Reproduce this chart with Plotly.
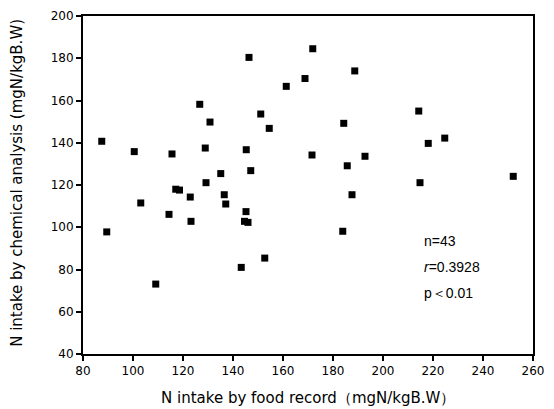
import plotly.graph_objects as go

food_record = [87.5, 100.5, 115.6, 126.7, 128.9, 130.8, 135.1, 129.2,
               146.4, 171.9, 188.7, 168.8, 161.3, 151.1, 154.5, 184.3,
               145.3, 171.6, 192.8, 147.1, 185.7,
               214.3, 224.7, 218.1, 252.1, 214.8,
               117.1, 118.6, 122.9, 136.5, 137.1, 103.1, 114.4, 123.2, 89.5, 109.1,
               187.6, 145.2, 144.6, 146.0, 183.9, 152.7, 143.3]
chemical = [140.7, 135.8, 134.7, 158.2, 137.5, 149.8, 125.4, 121.1,
            180.4, 184.5, 174.0, 170.4, 166.7, 153.6, 146.8, 149.2,
            136.7, 134.2, 133.6, 126.8, 129.1,
            155.0, 142.2, 139.7, 124.1, 121.1,
            118.0, 117.6, 114.3, 115.4, 111.0, 111.5, 106.1, 102.8, 97.8, 73.1,
            115.4, 107.4, 102.8, 102.3, 98.1, 85.4, 81.0]

x_ticks = [80, 100, 120, 140, 160, 180, 200, 220, 240, 260]
y_ticks = [40, 60, 80, 100, 120, 140, 160, 180, 200]
x_title = "N intake by food record（mgN/kgB.W）"
y_title = "N intake by chemical analysis (mgN/kgB.W)"
stats_lines = ["n=43", "<i>r</i>=0.3928", "p＜0.01"]

fig = go.Figure()
fig.add_trace(go.Scatter(
    x=food_record, y=chemical, mode="markers",
    marker=dict(symbol="square", size=7, color="black"),
    showlegend=False,
))

axis_font = dict(family="DejaVu Sans", size=12, color="black")
common = dict(
    showgrid=False, zeroline=False, showline=True, linecolor="black", linewidth=2,
    mirror=True, ticks="outside", ticklen=5, tickwidth=1.5, tickcolor="black",
    tickfont=axis_font, automargin=False,
)
fig.update_xaxes(range=[80, 260], tickvals=x_ticks,
                 ticktext=[str(t) for t in x_ticks], **common)
fig.update_yaxes(range=[40, 200], tickvals=y_ticks,
                 ticktext=[str(t) for t in y_ticks], **common)

title_font = dict(family="DejaVu Sans", size=15, color="black")
fig.add_annotation(
    x=0.5, y=-0.13, xref="paper", yref="paper", xanchor="center", yanchor="middle",
    text=x_title, showarrow=False, font=title_font,
)
fig.add_annotation(
    x=-0.147, y=0.506, xref="paper", yref="paper", xanchor="center", yanchor="middle",
    text=y_title, showarrow=False, textangle=-90, font=title_font,
)

for i, line in enumerate(stats_lines):
    fig.add_annotation(
        x=0.753, y=0.335 - i * 0.077, xref="paper", yref="paper",
        xanchor="left", yanchor="middle", text=line, showarrow=False,
        font=dict(family="Liberation Sans", size=14, color="black"),
    )

fig.update_layout(
    width=554, height=409,
    margin=dict(l=83, r=21, t=16, b=55),
    paper_bgcolor="white", plot_bgcolor="white",
)

fig.write_html("out.html", config={"displayModeBar": False},
               post_script="document.body.style.margin='0px';")
